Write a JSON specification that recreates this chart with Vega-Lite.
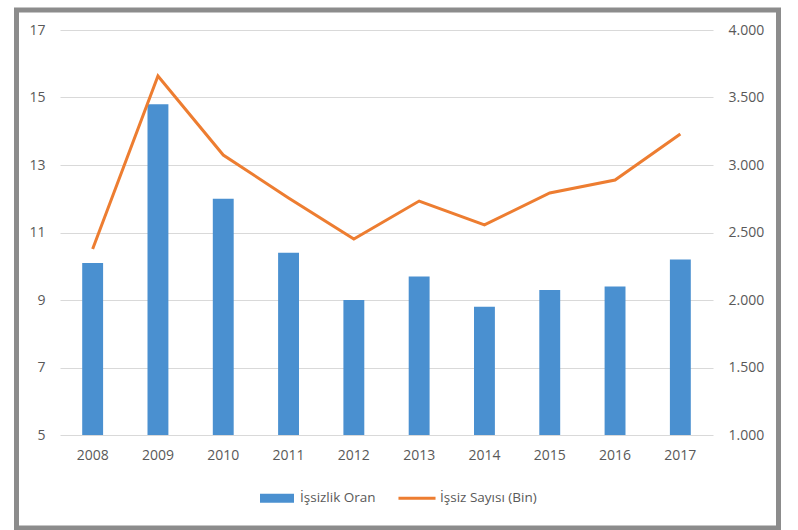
{
  "$schema": "https://vega.github.io/schema/vega-lite/v6.json",
  "width": 762,
  "height": 518,
  "autosize": {"type": "none"},
  "padding": {"left": 16.5, "top": 10, "right": 19.5, "bottom": 2},
  "background": "white",
  "config": {
    "view": {"stroke": "#8c8c8c", "strokeWidth": 5},
    "font": "Open Sans",
    "axis": {"labelColor": "#595959", "labelFontSize": 14, "labelFont": "Open Sans", "domain": false, "ticks": false, "title": null}
  },
  "data": {
    "values": [
      {"year": "2008", "rate": 10.1, "count": 2378},
      {"year": "2009", "rate": 14.8, "count": 3659},
      {"year": "2010", "rate": 12.0, "count": 3074},
      {"year": "2011", "rate": 10.4, "count": 2756},
      {"year": "2012", "rate": 9.0, "count": 2452},
      {"year": "2013", "rate": 9.7, "count": 2733},
      {"year": "2014", "rate": 8.8, "count": 2556},
      {"year": "2015", "rate": 9.3, "count": 2793},
      {"year": "2016", "rate": 9.4, "count": 2889},
      {"year": "2017", "rate": 10.2, "count": 3230}
    ]
  },
  "encoding": {
    "x": {
      "field": "year",
      "type": "ordinal",
      "scale": {"range": [43.5, 696.5], "paddingInner": 0.68, "paddingOuter": 0.34},
      "axis": {"offset": -93, "labelPadding": 13, "labelAngle": 0, "grid": false}
    }
  },
  "layer": [
    {
      "mark": {"type": "bar"},
      "encoding": {
        "y": {
          "field": "rate",
          "type": "quantitative",
          "scale": {"domain": [5, 17], "range": [425, 20], "nice": false, "zero": false},
          "axis": {"values": [5, 7, 9, 11, 13, 15, 17], "offset": -32.5, "labelPadding": 4, "grid": true, "gridColor": "#d9d9d9", "gridWidth": 1}
        },
        "y2": {"datum": 5},
        "color": {
          "datum": "İşsizlik Oran",
          "scale": {"domain": ["İşsizlik Oran", "İşsiz Sayısı (Bin)"], "range": ["#4a90d0", "#ed7d31"]},
          "legend": {
            "orient": "none",
            "legendX": 243.5,
            "legendY": 471,
            "direction": "horizontal",
            "title": null,
            "symbolSize": 1156,
            "labelFontSize": 13.5,
            "labelColor": "#595959",
            "labelFont": "Open Sans",
            "labelOffset": 6,
            "columnPadding": 22,
            "padding": 0,
            "symbolStrokeWidth": 0,
            "encode": {
              "symbols": {
                "update": {
                  "shape": {"signal": "datum.value === 'İşsizlik Oran' ? 'M-1,-0.27H1V0.27H-1Z' : 'M-1.09,-0.09H1.09V0.09H-1.09Z'"},
                  "fill": {"scale": "color", "field": "value"},
                  "stroke": {"value": "transparent"},
                  "opacity": {"value": 1}
                }
              }
            }
          }
        }
      }
    },
    {
      "mark": {"type": "line", "strokeWidth": 3},
      "encoding": {
        "y": {
          "field": "count",
          "type": "quantitative",
          "scale": {"domain": [1000, 4000], "range": [425, 20], "nice": false, "zero": false},
          "axis": {"orient": "right", "values": [1000, 1500, 2000, 2500, 3000, 3500, 4000], "offset": -54.5, "labelPadding": 4, "grid": false, "labelExpr": "replace(format(datum.value, ','), ',', '.')"}
        },
        "color": {"datum": "İşsiz Sayısı (Bin)"}
      }
    }
  ],
  "resolve": {"scale": {"y": "independent"}}
}
